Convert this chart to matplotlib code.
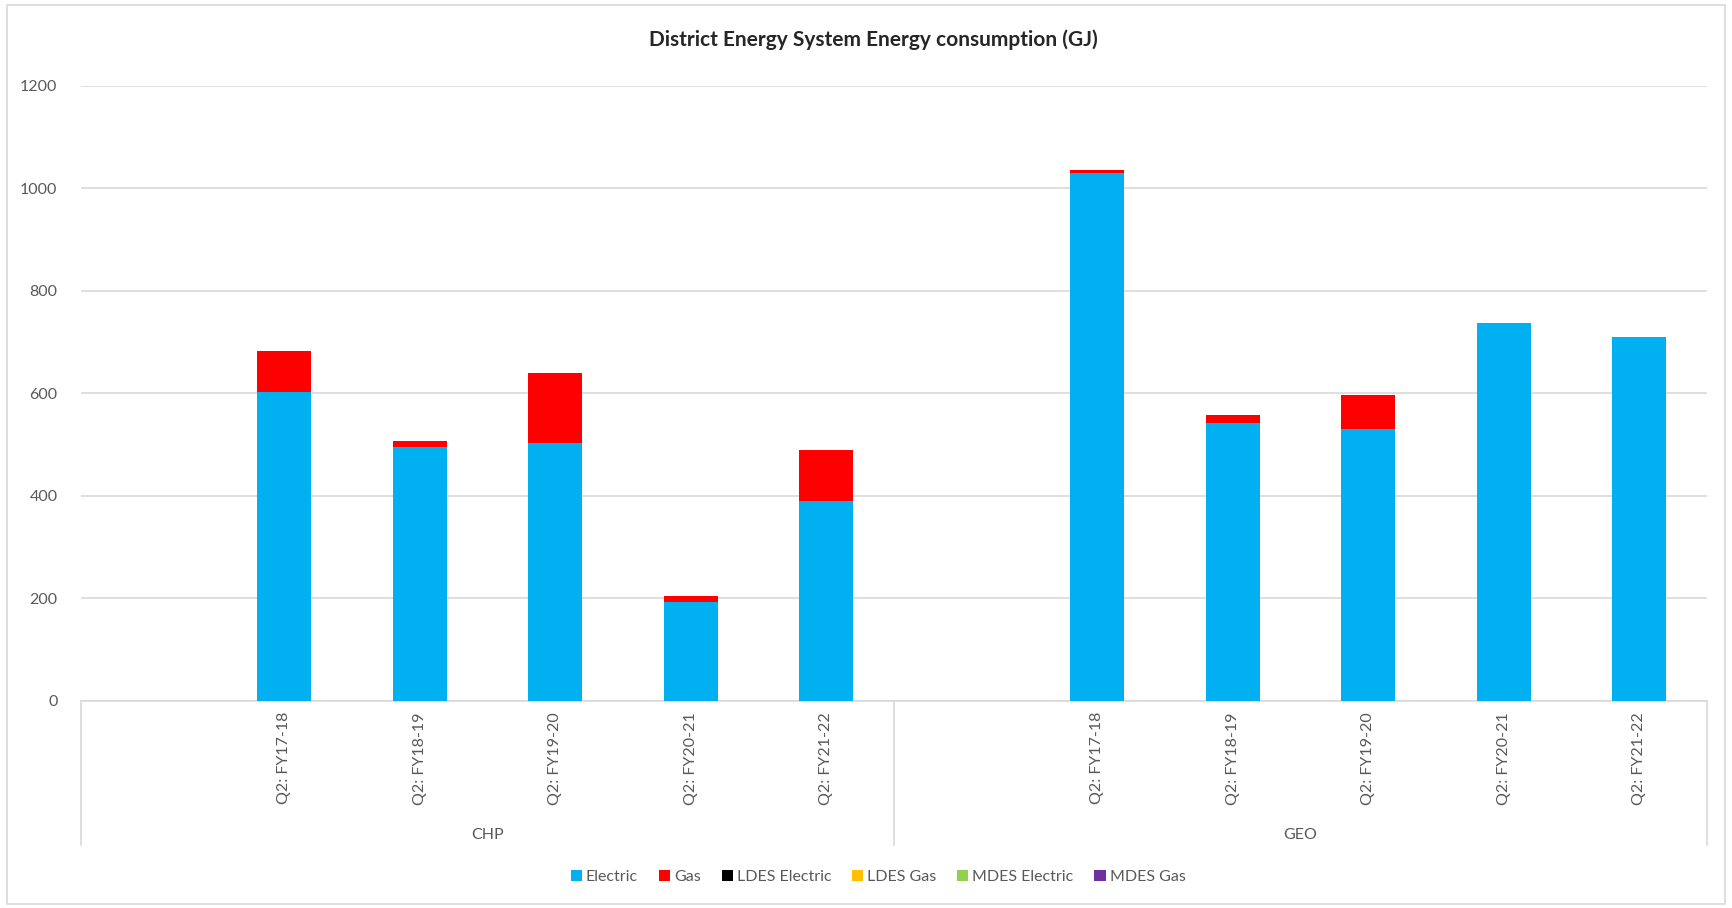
import matplotlib
matplotlib.use("Agg")
import matplotlib.pyplot as plt
import matplotlib.transforms as mtransforms
from matplotlib.patches import Rectangle

# data (GJ)
groups = ["CHP", "GEO"]
quarters = ["", "Q2: FY17-18", "Q2: FY18-19", "Q2: FY19-20", "Q2: FY20-21", "Q2: FY21-22"]
electric = [0, 603, 496, 504, 194, 390,
            0, 1030, 543, 530, 737, 710]
gas = [0, 80, 12, 136, 11, 99,
       0, 6, 15, 68, 0, 1]
ldes_electric = [0] * 12
ldes_gas = [0] * 12
mdes_electric = [0] * 12
mdes_gas = [0] * 12

series = [("Electric", electric, "#00b0f0"),
          ("Gas", gas, "#ff0000"),
          ("LDES Electric", ldes_electric, "#000000"),
          ("LDES Gas", ldes_gas, "#ffc000"),
          ("MDES Electric", mdes_electric, "#92d050"),
          ("MDES Gas", mdes_gas, "#7030a0")]

plt.rcParams['font.family'] = ['Lato', 'DejaVu Sans']

fig = plt.figure(figsize=(17.32, 9.08), dpi=100)
ax = fig.add_axes([0.0468, 0.228, 0.9388, 0.6773])

labels = quarters * len(groups)
x = list(range(len(labels)))
bottom = [0] * len(x)
for name, vals, col in series:
    ax.bar(x, vals, width=0.4, bottom=bottom, color=col, label=name, zorder=3)
    bottom = [b + v for b, v in zip(bottom, vals)]

ax.set_xlim(-0.5, len(x) - 0.5)
ax.set_ylim(0, 1200)
ax.set_yticks(range(0, 1201, 200))
ax.yaxis.grid(True, color="#d9d9d9", linewidth=1.2)
ax.set_axisbelow(True)
for s in ["top", "right", "left"]:
    ax.spines[s].set_visible(False)
ax.spines["bottom"].set_color("#d9d9d9")
ax.spines["bottom"].set_linewidth(1.2)
ax.tick_params(axis="y", length=0, pad=17, labelsize=11.5, labelcolor="#595959")
ax.tick_params(axis="x", length=0, pad=8, labelsize=11.5, labelcolor="#595959")
ax.set_xticks(x)
ax.set_xticklabels(labels, rotation=90, va="top", ha="center")

# group separators and group names under the category labels
trans = mtransforms.blended_transform_factory(ax.transData, ax.transAxes)
n = len(quarters)
for i in range(len(groups) + 1):
    xs = i * n - 0.5
    ax.plot([xs, xs], [0, -0.234], transform=trans, color="#d9d9d9",
            linewidth=1.2, clip_on=False)
for i, g in enumerate(groups):
    ax.text(i * n + (n - 1) / 2, -0.218, g, transform=trans, ha="center",
            va="center", fontsize=11.5, color="#595959")

fig.text(0.504, 0.956, "District Energy System Energy consumption (GJ)",
         fontsize=15, fontweight="bold", color="#262626", ha="center", va="center")

fig.legend(loc="center", bbox_to_anchor=(0.507, 0.034), ncol=6, frameon=False,
           fontsize=11.5, handlelength=0.7, handleheight=0.7, handletextpad=0.25,
           columnspacing=1.3, labelcolor="#595959")

fig.patches.append(Rectangle((0.004, 0.004), 0.992, 0.99, transform=fig.transFigure,
                             fill=False, edgecolor="#d9d9d9", linewidth=1.2))

fig.savefig("out.png", dpi=100)
